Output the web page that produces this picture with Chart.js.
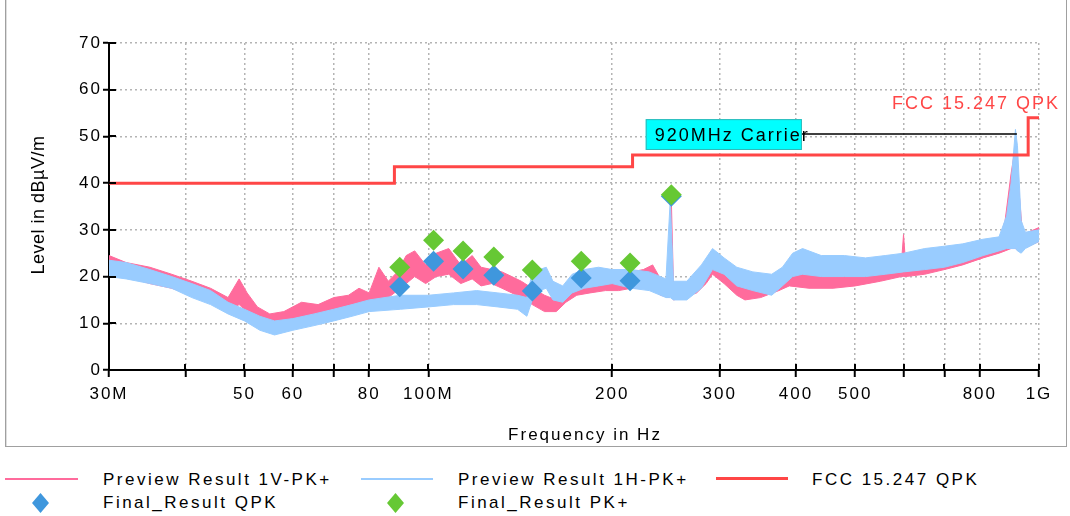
<!DOCTYPE html>
<html>
<head>
<meta charset="utf-8">
<script src="https://cdn.jsdelivr.net/npm/chart.js@4/dist/chart.umd.min.js"></script>
<style>
    body { margin: 0; background: #fff; font-family: "Liberation Sans", Arial, sans-serif; }
    #wrap { position: relative; width: 1070px; height: 516px; overflow: hidden; }
    #frame { position: absolute; left: 5px; top: -4px; width: 1060px; height: 449px;
             border: 1px solid #a0a0a0; box-shadow: inset 1px 1px 0 #dedede; }
    #chart { position: absolute; left: 0; top: 0; }
    .t { position: absolute; font-size: 17px; line-height: 20px; letter-spacing: 2px;
         color: #000; white-space: nowrap; }
    .lg { letter-spacing: 2.5px; }
    .sym { position: absolute; }
    .dia { position: absolute; width: 17px; height: 20px;
           clip-path: polygon(50% 0, 100% 50%, 50% 100%, 0 50%); }
</style>
</head>
<body>
<div id="wrap">
    <div id="frame"></div>
    <canvas id="chart" width="1070" height="448"></canvas>

    <div class="t" style="left:38px; top:205px; font-size:18px; letter-spacing:0.5px; transform:translate(-50%,-50%) rotate(-90deg);">Level in dBµV/m</div>
    <div class="t" style="left:585px; top:435px; transform:translate(-50%,-50%);">Frequency in Hz</div>
    <div class="t" style="right:10px; top:93px; font-size:18px; color:#ff4646;">FCC 15.247 QPK</div>

    <!-- legend -->
    <div class="sym" style="left:5px; top:478px; width:73px; height:2px; background:#ff6b9c;"></div>
    <div class="t lg" style="left:103px; top:470px;">Preview Result 1V-PK+</div>
    <div class="sym" style="left:361px; top:478px; width:72px; height:2px; background:#99ccff;"></div>
    <div class="t lg" style="left:458px; top:470px;">Preview Result 1H-PK+</div>
    <div class="sym" style="left:716px; top:477px; width:72px; height:3px; background:#ff4646;"></div>
    <div class="t lg" style="left:812px; top:470px;">FCC 15.247 QPK</div>
    <div class="dia" style="left:32px; top:493px; background:#3f97dd;"></div>
    <div class="t lg" style="left:103px; top:493px;">Final_Result QPK</div>
    <div class="dia" style="left:387px; top:493px; background:#66c834;"></div>
    <div class="t lg" style="left:458px; top:493px;">Final_Result PK+</div>
</div>

<script>
// frequency in MHz, level in dBµV/m

// Preview Result 1V-PK+ (trace drawn as min/max band)
const V_FREQ = [30, 32, 35, 38, 41, 44, 47, 49, 50.5, 52.5, 55, 58, 62, 66, 70, 74, 77, 80, 83, 86,
    89, 92, 95, 99, 103, 108, 113, 118, 122, 127, 132, 137, 142, 148, 155, 162, 168, 175, 184, 195,
    205, 215, 225, 233, 240, 248, 250, 252, 262, 275, 285, 292, 305, 320, 330, 350, 375, 390, 420, 460,
    500, 550, 595, 600, 605, 650, 700, 750, 810, 860, 880, 900, 915, 925, 940, 960, 1000];
const V_LO = [20.5, 20, 18.5, 17.5, 16, 14.5, 12.5, 14, 12.5, 10.5, 9.5, 9.5, 10.5, 11, 12, 13, 14, 13.5, 15, 15.5,
    17, 18.5, 20, 18.5, 20, 20.5, 18.5, 19.5, 18, 18.5, 17.5, 16.5, 15.5, 14, 12.5, 12.5, 14.5, 16, 16.5, 17,
    17, 17.5, 17.5, 18, 16, 15.5, 16, 15, 15.5, 16.5, 18.5, 20.5, 18.5, 16, 15, 15.5, 17, 18, 17.5, 17.5,
    18, 19, 20, 20, 20, 20.5, 21.5, 22.5, 24, 25, 25.5, 26, 26, 25.5, 26, 26.5, 27.5];
const V_HI = [24.5, 23, 22, 20.5, 19, 17.5, 15.5, 19.5, 16.5, 13.5, 12, 12.5, 14.5, 14, 15.5, 16, 17.5, 16.5, 22, 19,
    21, 24.5, 25.5, 22.5, 25, 26, 22.5, 24.5, 22, 21.5, 21, 20, 19, 17.5, 16, 15, 18, 19.5, 19.5, 20,
    20.5, 21, 21.5, 22.5, 19.5, 18.5, 36.5, 18.5, 18.5, 20, 22.5, 24, 22, 19.5, 18, 19, 20, 20.5, 20.5, 20,
    20.5, 21.5, 22.5, 29, 22.5, 23.5, 24.5, 25.5, 27, 27.5, 32, 42, 48, 40, 29, 29.5, 30.5];

// Preview Result 1H-PK+
const H_FREQ = [30, 32, 35, 38, 41, 44, 47, 50, 53, 56, 60, 65, 70, 75, 80, 90, 100, 110, 120, 130,
    140, 145, 148, 152, 156, 160, 166, 172, 180, 190, 200, 215, 230, 245, 249, 252, 265, 280, 292, 305,
    320, 340, 365, 380, 395, 410, 440, 480, 520, 560, 600, 650, 700, 750, 810, 860, 885, 900, 915, 922,
    935, 950, 1000];
const H_LO = [20, 19.5, 18.5, 17.5, 15.5, 14, 12, 10.5, 8.5, 7.5, 8.5, 9.5, 10.5, 11.5, 12.5, 13, 13.5, 14, 14, 13.5,
    13, 11.5, 15, 17, 17.5, 15, 14.5, 16.5, 17.5, 18, 18.5, 17.5, 17, 15.5, 15.5, 15, 15, 17.5, 21.5, 20.5,
    18, 17, 16, 18, 20, 20.5, 20, 20, 20, 20.5, 21, 21.5, 22, 23, 24.5, 25.5, 26, 26, 26, 25.5,
    25, 26, 27.5];
const H_HI = [23.5, 23, 21.5, 20, 18.5, 17, 14.5, 13, 11.5, 10.5, 11, 12, 13, 14, 15, 16, 16, 16.5, 17, 16.5,
    16, 15.5, 21, 21.5, 22, 19, 18, 20.5, 21.5, 22, 21.5, 21.5, 21, 19.5, 36.5, 19, 19, 22.5, 26, 24,
    22, 21, 20.5, 22, 25, 26, 24.5, 24.5, 24, 24.5, 25, 26, 26.5, 27, 28, 28.5, 33, 40, 51.5, 48,
    32, 29.5, 30];

// FCC 15.247 QPK limit
const LIMIT_FREQ = [30, 88, 88, 216, 216, 960, 960, 1000];
const LIMIT_LEVEL = [40, 40, 43.5, 43.5, 46, 46, 54, 54];

// final measurements
const FINAL_FREQ = [89.8, 102, 114, 128, 148, 178, 214, 250];
const QPK_LEVEL = [17.8, 23.3, 21.6, 20.3, 16.9, 19.7, 19.1, 37.2];
const PK_LEVEL = [22, 27.8, 25.5, 24.2, 21.4, 23.3, 22.9, 37.5];

// axis ticks
const X_TICKS = [30, 40, 50, 60, 70, 80, 100, 200, 300, 400, 500, 600, 700, 800, 1000];
const X_TICK_LABELS = ["30M", "", "50", "60", "", "80", "100M", "200", "300", "400", "500", "", "", "800", "1G"];

// carrier marker
const CARRIER_FREQ = 920;
const CARRIER_LEVEL = 50.5;
const CARRIER_LABEL = "920MHz Carrier";
const CARRIER_BOX = { f1: 227, f2: 409, y1: 47.1, y2: 53.7 };

const PINK = "#ff6b9c";
const LIGHT_BLUE = "#99ccff";
const RED = "#ff4646";
const FONT = "'Liberation Sans', Arial, sans-serif";

const pts = (xs, ys) => xs.map((x, i) => ({ x: x, y: ys[i] }));

const tickPlugin = {
    id: "crossTicks",
    beforeDraw(chart) {
        chart.ctx.letterSpacing = "2px";
    },
    afterDatasetsDraw(chart) {
        const { ctx, scales: { x, y } } = chart;
        const a = x.getPixelForValue(CARRIER_BOX.f1);
        const b = x.getPixelForValue(CARRIER_BOX.f2);
        const top = y.getPixelForValue(CARRIER_BOX.y2);
        const bot = y.getPixelForValue(CARRIER_BOX.y1);
        const ly = y.getPixelForValue(CARRIER_LEVEL);
        ctx.save();
        ctx.strokeStyle = "#000";
        ctx.lineWidth = 1.5;
        ctx.beginPath();
        ctx.moveTo(b, ly);
        ctx.lineTo(x.getPixelForValue(CARRIER_FREQ), ly);
        ctx.stroke();
        ctx.fillStyle = "#00ffff";
        ctx.fillRect(a, top, b - a, bot - top);
        ctx.strokeStyle = "#30b8b8";
        ctx.lineWidth = 1;
        ctx.strokeRect(a + 0.5, top + 0.5, b - a - 1, bot - top - 1);
        ctx.fillStyle = "#000";
        ctx.font = "18px " + FONT;
        ctx.letterSpacing = "2px";
        ctx.textBaseline = "middle";
        ctx.fillText(CARRIER_LABEL, a + 9, (top + bot) / 2 + 1);
        ctx.restore();
    },
    afterDraw(chart) {
        const { ctx, chartArea, scales: { x, y } } = chart;
        ctx.save();
        ctx.strokeStyle = "#000";
        ctx.lineWidth = 2;
        y.ticks.forEach(t => {
            const py = Math.round(y.getPixelForValue(t.value));
            ctx.beginPath();
            ctx.moveTo(chartArea.left, py);
            ctx.lineTo(chartArea.left + 7, py);
            ctx.stroke();
        });
        x.ticks.forEach(t => {
            const px = Math.round(x.getPixelForValue(t.value));
            ctx.beginPath();
            ctx.moveTo(px, chartArea.bottom);
            ctx.lineTo(px, chartArea.bottom - 6);
            ctx.stroke();
        });
        ctx.restore();
    }
};

const ctx = document.getElementById("chart").getContext("2d");
const chart = new Chart(ctx, {
    type: "line",
    data: {
        datasets: [
            { data: pts(V_FREQ, V_HI), borderColor: PINK, backgroundColor: PINK, borderWidth: 1, fill: "+1", order: 4 },
            { data: pts(V_FREQ, V_LO), borderColor: PINK, borderWidth: 1, fill: false, order: 4 },
            { data: pts(H_FREQ, H_HI), borderColor: LIGHT_BLUE, backgroundColor: LIGHT_BLUE, borderWidth: 1, fill: "+1", order: 3 },
            { data: pts(H_FREQ, H_LO), borderColor: LIGHT_BLUE, borderWidth: 1, fill: false, order: 3 },
            { data: pts(LIMIT_FREQ, LIMIT_LEVEL), borderColor: RED, borderWidth: 3, fill: false, order: 2 },
            { data: pts(FINAL_FREQ, QPK_LEVEL), showLine: false, pointStyle: "rectRot", pointRadius: 10.5,
              pointBackgroundColor: "#3f97dd", pointBorderWidth: 0, order: 1 },
            { data: pts(FINAL_FREQ, PK_LEVEL), showLine: false, pointStyle: "rectRot", pointRadius: 10.5,
              pointBackgroundColor: "#66c834", pointBorderWidth: 0, order: 0 }
        ]
    },
    options: {
        responsive: false,
        animation: false,
        layout: { padding: { left: 0, right: 31, top: 43, bottom: 0 } },
        elements: { point: { radius: 0 }, line: { tension: 0 } },
        plugins: { legend: { display: false }, tooltip: { enabled: false } },
        scales: {
            x: {
                type: "logarithmic",
                min: 30,
                max: 1000,
                afterBuildTicks: s => { s.ticks = X_TICKS.map(v => ({ value: v })); },
                afterFit: s => { s.height = 78; },
                ticks: {
                    autoSkip: false, maxRotation: 0, padding: 7, color: "#000",
                    font: { family: FONT, size: 17 },
                    callback: v => {
                        const i = X_TICKS.indexOf(v);
                        return i < 0 ? "" : X_TICK_LABELS[i];
                    }
                },
                grid: { color: "#b4b4b4", lineWidth: 1.5, tickColor: "#000", tickWidth: 2, tickLength: 7 },
                border: { color: "#000", width: 2, dash: [2, 3] }
            },
            y: {
                min: 0,
                max: 70,
                afterFit: s => { s.width = 109; },
                ticks: {
                    stepSize: 5, padding: 1, color: "#000",
                    font: { family: FONT, size: 17 },
                    callback: v => (v % 10 === 0 ? String(v) : "")
                },
                grid: { color: "#b4b4b4", lineWidth: 1.5, tickColor: "#000", tickWidth: 2, tickLength: 6 },
                border: { color: "#000", width: 2, dash: [2, 3] }
            }
        }
    },
    plugins: [tickPlugin]
});
</script>
</body>
</html>
